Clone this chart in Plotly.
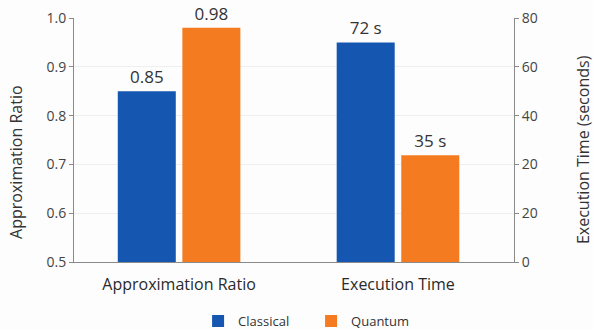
import plotly.graph_objects as go

# Metrics compared for the two solvers
categories = ["Approximation Ratio", "Execution Time"]
series_names = ["Classical", "Quantum"]
approx_ratio = [0.85, 0.98]          # Classical, Quantum
exec_time_s = [72, 35]               # Classical, Quantum (seconds)
left_ticks = [0.5, 0.6, 0.7, 0.8, 0.9, 1.0]
right_tickvals = [0, 16, 32, 48, 64, 80]
right_ticktext = ["0", "20", "20", "40", "60", "80"]

colors = {"Classical": "#1556b0", "Quantum": "#f47b20"}
offsets = {"Classical": -0.28, "Quantum": 0.015}
bar_w = 0.265
font_family = "Open Sans"

fig = go.Figure()

for i, name in enumerate(series_names):
    # approximation ratio on the left axis
    fig.add_trace(go.Bar(
        name=name, x=[categories[0]], y=[approx_ratio[i]],
        width=bar_w, offset=offsets[name],
        marker=dict(color=colors[name], line=dict(width=0)),
        text=[f"{approx_ratio[i]:.2f}"], textposition="outside",
        textfont=dict(size=17, color="#333333", family=font_family),
        cliponaxis=False,
        legendgroup=name, showlegend=True,
        yaxis="y",
    ))
    # execution time on the right axis
    fig.add_trace(go.Bar(
        name=name, x=[categories[1]], y=[exec_time_s[i]],
        width=bar_w, offset=offsets[name],
        marker=dict(color=colors[name], line=dict(width=0)),
        text=[f"{exec_time_s[i]} s"], textposition="outside",
        textfont=dict(size=17, color="#333333", family=font_family),
        cliponaxis=False,
        legendgroup=name, showlegend=False,
        yaxis="y2",
    ))

axis_line = "#8a8a8a"
fig.update_layout(
    width=593, height=329,
    margin=dict(l=74, r=79, t=18, b=67, autoexpand=False),
    paper_bgcolor="#fdfdfd", plot_bgcolor="#fdfdfd",
    font=dict(family=font_family, color="#333333", size=14),
    barmode="overlay",
    xaxis=dict(
        type="category", range=[-0.48, 1.53],
        showline=True, linecolor=axis_line, linewidth=1,
        ticks="", tickfont=dict(size=16, color="#2a2a2a"),
        ticklabelstandoff=8,
        showgrid=False,
    ),
    yaxis=dict(
        range=[0.5, 1.0], tickvals=left_ticks,
        tickformat=".1f",
        showline=True, linecolor=axis_line, linewidth=1,
        ticks="outside", ticklen=4, tickcolor=axis_line,
        tickfont=dict(size=14, color="#444444"),
        showgrid=True, gridcolor="#efefef", gridwidth=1,
        zeroline=False,
    ),
    yaxis2=dict(
        range=[0, 80], overlaying="y", side="right",
        tickvals=right_tickvals, ticktext=right_ticktext,
        showline=True, linecolor=axis_line, linewidth=1,
        ticks="outside", ticklen=4, tickcolor=axis_line,
        tickfont=dict(size=14, color="#444444"),
        showgrid=False, zeroline=False,
    ),
    legend=dict(
        orientation="h", x=0.282, xanchor="left",
        y=-0.242, yanchor="middle",
        font=dict(size=13, color="#333333"),
        itemwidth=30, entrywidth=68, entrywidthmode="pixels",
        bgcolor="rgba(0,0,0,0)",
    ),
    annotations=[
        dict(text="Approximation Ratio", textangle=-90,
             xref="paper", yref="paper", x=-0.132, y=0.41,
             xanchor="center", yanchor="middle", showarrow=False,
             font=dict(size=16, color="#333333")),
        dict(text="Execution Time (seconds)", textangle=-90,
             xref="paper", yref="paper", x=1.157, y=0.459,
             xanchor="center", yanchor="middle", showarrow=False,
             font=dict(size=16, color="#333333")),
    ],
)

fig.write_html("out.html")
